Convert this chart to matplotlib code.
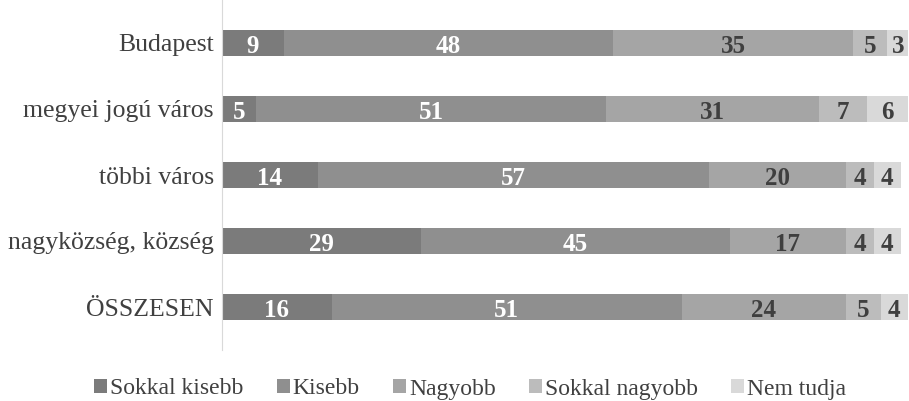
import matplotlib.pyplot as plt
import numpy as np

categories = ["Budapest", "megyei jogú város", "többi város",
              "nagyközség, község", "ÖSSZESEN"]
series_names = ["Sokkal kisebb", "Kisebb", "Nagyobb", "Sokkal nagyobb", "Nem tudja"]
sokkal_kisebb = [9, 5, 14, 29, 16]
kisebb = [48, 51, 57, 45, 51]
nagyobb = [35, 31, 20, 17, 24]
sokkal_nagyobb = [5, 7, 4, 4, 5]
nem_tudja = [3, 6, 4, 4, 4]

colors = ["#7b7b7b", "#8f8f8f", "#a5a5a5", "#bcbcbc", "#d9d9d9"]
text_colors = ["white", "white", "#3f3f3f", "#3f3f3f", "#3f3f3f"]

plt.rcParams["font.family"] = ["Liberation Serif", "DejaVu Serif"]

fig = plt.figure(figsize=(9.09, 4.01), dpi=100)
ax = fig.add_axes([222 / 909, 1 - 340 / 401, (908 - 222) / 909, 330 / 401])

y = np.arange(len(categories))
left = np.zeros(len(categories))
all_series = [sokkal_kisebb, kisebb, nagyobb, sokkal_nagyobb, nem_tudja]
for vals, name, c, tc in zip(all_series, series_names, colors, text_colors):
    vals = np.array(vals, dtype=float)
    ax.barh(y, vals, left=left, height=0.4, color=c, label=name)
    for yi, l, v in zip(y, left, vals):
        ax.text(l + v / 2, yi + 0.01, f"{int(v)}", ha="center", va="center_baseline",
                color=tc, fontsize=18, fontweight="bold")
    left += vals

ax.set_xlim(0, 100)
ax.set_ylim(len(categories) - 0.5, -0.5)
ax.set_yticks(y)
ax.set_yticklabels(categories, fontsize=18.5, color="#404040")
ax.tick_params(axis="y", length=0, pad=6)
ax.set_xticks([])
for s in ["top", "right", "bottom"]:
    ax.spines[s].set_visible(False)
ax.spines["left"].set_color("#d9d9d9")
ax.spines["left"].set_bounds(-0.65, 4.65)

fig.legend(loc="center", bbox_to_anchor=(470 / 909, 1 - 389 / 401), ncol=5,
           frameon=False, fontsize=17, handlelength=0.55, handleheight=0.55,
           handletextpad=0.13, columnspacing=1.4, labelcolor="#404040")

fig.savefig("out.png", dpi=100)
